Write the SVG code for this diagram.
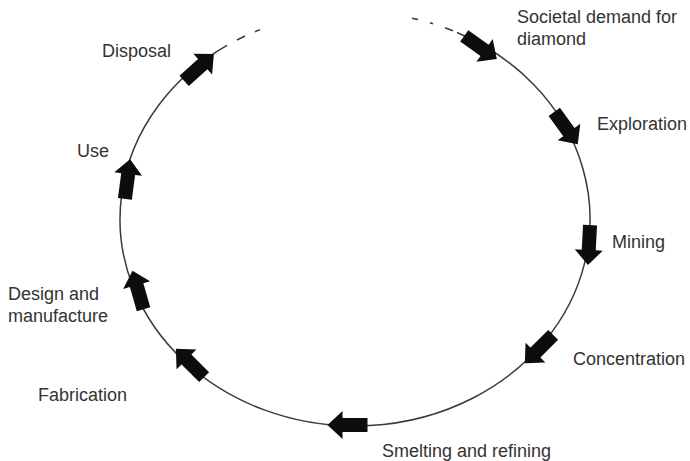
<svg xmlns="http://www.w3.org/2000/svg" width="690" height="461" viewBox="0 0 690 461">
<style>
  .cycle { fill: none; stroke: #3a3a3a; stroke-width: 1.5; }
  .arr { fill: #0d0d0d; }
  text { font-family: "Liberation Sans", Arial, sans-serif; font-size: 18px; fill: #333333; }
</style>
<defs>
  <path id="blk" d="M-20,-7 L5,-7 L5,-14 L20,0 L5,14 L5,7 L-20,7 Z"/>
</defs>
<rect width="690" height="461" fill="#ffffff"/>
<g id="connectors">
  <path class="cycle" d="M457,32.5 A235,207 0 1,1 227,45.4"/>
  <line class="cycle" x1="237" y1="40" x2="245" y2="36"/>
  <line class="cycle" x1="255" y1="31.7" x2="260" y2="29.6"/>
  <line class="cycle" x1="412" y1="18.2" x2="418" y2="19.6"/>
  <line class="cycle" x1="430" y1="22.8" x2="433" y2="23.8"/>
  <line class="cycle" x1="445" y1="27.8" x2="453" y2="30.8"/>
</g>
<g id="societal-demand">
  <use href="#blk" class="arr" transform="translate(480.5,47.5) rotate(35.5)"/>
  <text x="517" y="23">Societal demand for</text>
  <text x="517" y="45">diamond</text>
</g>
<g id="exploration">
  <use href="#blk" class="arr" transform="translate(566,128) rotate(54)"/>
  <text x="597" y="130">Exploration</text>
</g>
<g id="mining">
  <use href="#blk" class="arr" transform="translate(589,245) rotate(93)"/>
  <text x="612" y="248">Mining</text>
</g>
<g id="concentration">
  <use href="#blk" class="arr" transform="translate(539,349) rotate(135)"/>
  <text x="573" y="365">Concentration</text>
</g>
<g id="smelting">
  <use href="#blk" class="arr" transform="translate(347.5,425) rotate(180)"/>
  <text x="382" y="457">Smelting and refining</text>
</g>
<g id="fabrication">
  <use href="#blk" class="arr" transform="translate(190,363) rotate(225)"/>
  <text x="38" y="401">Fabrication</text>
</g>
<g id="design">
  <use href="#blk" class="arr" transform="translate(138,290) rotate(254)"/>
  <text x="8" y="300">Design and</text>
  <text x="8" y="322">manufacture</text>
</g>
<g id="use">
  <use href="#blk" class="arr" transform="translate(127.5,179) rotate(277.5)"/>
  <text x="77" y="157">Use</text>
</g>
<g id="disposal">
  <use href="#blk" class="arr" transform="translate(199,67.5) rotate(-42)"/>
  <text x="102" y="57">Disposal</text>
</g>
</svg>
